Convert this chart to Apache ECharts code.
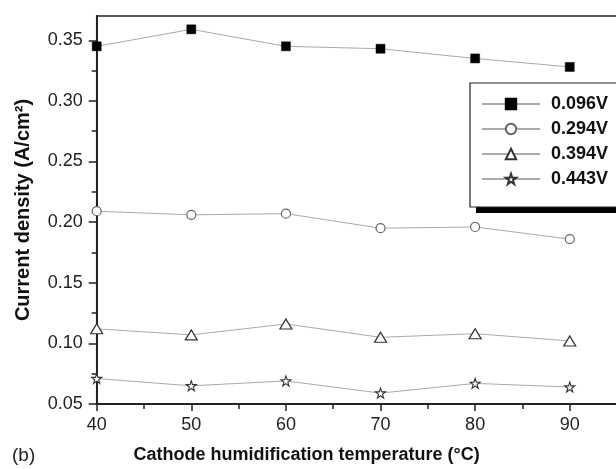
<!DOCTYPE html>
<html>
<head>
<meta charset="utf-8">
<script src="https://cdn.jsdelivr.net/npm/echarts@6/dist/echarts.min.js"></script>
<style>html,body{margin:0;padding:0;background:#fff;}#c{width:616px;height:469px;}</style>
</head>
<body>
<div id="c"></div>
<script>
var temperatures = [40, 50, 60, 70, 80, 90];
var seriesNames = ['0.096V', '0.294V', '0.394V', '0.443V'];
var v096 = [0.345, 0.359, 0.345, 0.343, 0.335, 0.328];
var v294 = [0.209, 0.206, 0.207, 0.195, 0.196, 0.186];
var v394 = [0.112, 0.107, 0.116, 0.105, 0.108, 0.102];
var v443 = [0.071, 0.065, 0.069, 0.059, 0.067, 0.064];
var yMajorTicks = [0.05, 0.10, 0.15, 0.20, 0.25, 0.30, 0.35];
var yMinorTicks = [0.075, 0.125, 0.175, 0.225, 0.275, 0.325];
var xMajorTicks = [40, 50, 60, 70, 80, 90];
var xMinorTicks = [45, 55, 65, 75, 85, 95];

function pairs(ys) { return temperatures.map(function (t, i) { return [t, ys[i]]; }); }

var starPath = 'path://M50,2 L61.8,36.2 L97.6,36.2 L68.6,57.4 L79.4,91.6 L50,70.4 L20.6,91.6 L31.4,57.4 L2.4,36.2 L38.2,36.2 Z';
var FONT = 'Liberation Sans';
var axisColor = '#222';

var chart = echarts.init(document.getElementById('c'), null, {renderer: 'canvas'});
var lineStyle = {color: '#aaa', width: 1};
chart.setOption({
  animation: false,
  backgroundColor: '#fff',
  textStyle: {fontFamily: FONT},
  grid: {left: 96.7, top: 16, bottom: 65, width: 529.8, outerBoundsMode: 'none', containLabel: false,
    show: true, borderColor: axisColor, borderWidth: 1.5, backgroundColor: 'transparent'},
  xAxis: [{
    type: 'value', min: 40, max: 96,
    name: 'Cathode humidification temperature (°C)',
    nameLocation: 'middle', nameGap: 42,
    nameTextStyle: {fontFamily: FONT, fontSize: 18, fontWeight: 'bold', color: '#111', padding: [0, 110, 0, 0]},
    axisLine: {show: true, onZero: false, lineStyle: {color: axisColor, width: 2}},
    axisTick: {show: true, inside: false, length: 7, lineStyle: {color: axisColor, width: 1.5}, customValues: xMajorTicks},
    axisLabel: {show: true, margin: 12, fontFamily: FONT, fontSize: 18, color: '#222', customValues: xMajorTicks},
    splitLine: {show: false}
  }, {
    type: 'value', min: 40, max: 96, position: 'bottom', gridIndex: 0,
    axisLine: {show: false, onZero: false},
    axisTick: {show: true, inside: false, length: 5, lineStyle: {color: axisColor, width: 1.5}, customValues: xMinorTicks},
    axisLabel: {show: false},
    splitLine: {show: false}
  }],
  yAxis: [{
    type: 'value', min: 0.05, max: 0.37,
    name: 'Current density (A/cm²)',
    nameLocation: 'middle', nameGap: 63, nameRotate: 90,
    nameTextStyle: {fontFamily: FONT, fontSize: 20, fontWeight: 'bold', color: '#111'},
    axisLine: {show: true, onZero: false, lineStyle: {color: axisColor, width: 2}},
    axisTick: {show: true, inside: false, length: 8, lineStyle: {color: axisColor, width: 1.5}, customValues: yMajorTicks},
    axisLabel: {show: true, margin: 14, fontFamily: FONT, fontSize: 18, color: '#222', customValues: yMajorTicks,
      formatter: function (v) { return v.toFixed(2); }},
    splitLine: {show: false}
  }, {
    type: 'value', min: 0.05, max: 0.37, position: 'left', gridIndex: 0,
    axisLine: {show: false, onZero: false},
    axisTick: {show: true, inside: false, length: 5, lineStyle: {color: axisColor, width: 1.5}, customValues: yMinorTicks},
    axisLabel: {show: false},
    splitLine: {show: false}
  }],
  legend: {
    left: 470, top: 83, orient: 'vertical', z: 10,
    data: seriesNames,
    itemWidth: 58, itemHeight: 13, itemGap: 7,
    padding: [12, 30, 19, 11],
    backgroundColor: '#fff', borderColor: '#222', borderWidth: 1.2, borderRadius: 0,
    textStyle: {fontFamily: FONT, fontSize: 18, fontWeight: 'bold', color: '#111', padding: [0, 0, 0, 6]}
  },
  graphic: [{
    type: 'rect', z: 5, left: 476, top: 90, silent: true,
    shape: {width: 160, height: 123},
    style: {fill: '#000'}
  }, {
    type: 'text', left: 12, top: 446,
    style: {text: '(b)', fontFamily: FONT, fontSize: 19, fill: '#222'}
  }],
  series: [{
    name: seriesNames[0], type: 'line', data: pairs(v096),
    symbol: 'rect', symbolSize: 9,
    itemStyle: {color: '#000', borderColor: '#000', borderWidth: 0.5},
    lineStyle: lineStyle
  }, {
    name: seriesNames[1], type: 'line', data: pairs(v294),
    symbol: 'circle', symbolSize: 9,
    itemStyle: {color: '#fff', borderColor: '#666', borderWidth: 1.2},
    lineStyle: lineStyle
  }, {
    name: seriesNames[2], type: 'line', data: pairs(v394),
    symbol: 'triangle', symbolSize: [12, 10],
    itemStyle: {color: '#fff', borderColor: '#333', borderWidth: 1.2},
    lineStyle: lineStyle
  }, {
    name: seriesNames[3], type: 'line', data: pairs(v443),
    symbol: starPath, symbolSize: 10,
    itemStyle: {color: '#fff', borderColor: '#333', borderWidth: 1.1},
    lineStyle: lineStyle
  }]
});
</script>
</body>
</html>
